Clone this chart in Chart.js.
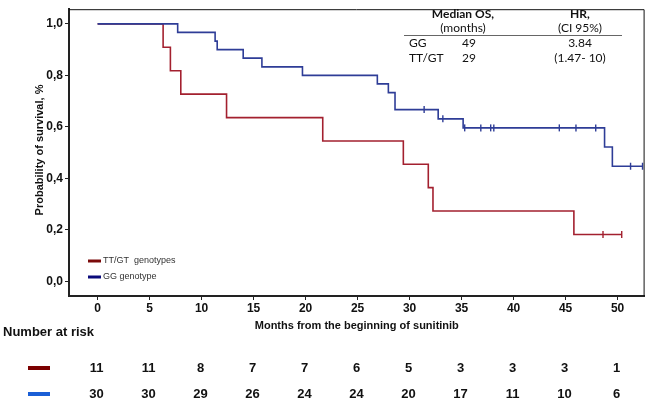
<!DOCTYPE html>
<html>
<head>
<meta charset="utf-8">
<script src="https://cdn.jsdelivr.net/npm/chart.js@4.4.1/dist/chart.umd.min.js"></script>
<style>
  html, body { margin: 0; padding: 0; background: #fff; }
  #wrap { width: 650px; height: 404px; }
</style>
</head>
<body>
<div id="wrap"><canvas id="km"></canvas></div>
<script>
Chart.defaults.animation = false;

const xTicks = [0, 5, 10, 15, 20, 25, 30, 35, 40, 45, 50];
const yTicks = [0, 0.2, 0.4, 0.6, 0.8, 1.0];

// TT/GT genotypes: step times (months) and survival after each step
const redTimes = [0, 6.3, 7.0, 8.0, 12.4, 21.65, 29.4, 31.8, 32.25, 45.8, 50.4];
const redSurv = [1, 0.909, 0.818, 0.727, 0.636, 0.545, 0.455, 0.364, 0.273, 0.182, 0.182];
const redCensored = [48.6, 50.4];

// GG genotype
const blueTimes = [0, 7.7, 11.3, 11.5, 14.0, 15.8, 19.7, 26.9, 27.96, 28.6, 32.75, 35.15, 48.75, 49.5, 52.4];
const blueSurv = [1, 0.967, 0.933, 0.90, 0.867, 0.833, 0.80, 0.767, 0.733, 0.667, 0.631, 0.596, 0.522, 0.447, 0.447];
const blueCensored = [31.4, 33.2, 35.3, 36.85, 37.8, 38.1, 44.4, 46.0, 47.9, 51.25, 52.4];

// number at risk under each x tick
const riskRed = [11, 11, 8, 7, 7, 6, 5, 3, 3, 3, 1];
const riskBlue = [30, 30, 29, 26, 24, 24, 20, 17, 11, 10, 6];

const RED = '#a3202f';
const BLUE = '#2e3d97';
const FONT = '"Liberation Sans", Arial, sans-serif';

function steps(times, surv) {
  return times.map((t, i) => ({ x: t, y: surv[i] }));
}
function survAt(times, surv, t) {
  let s = surv[0];
  for (let i = 0; i < times.length; i++) if (times[i] <= t) s = surv[i];
  return s;
}
function censorPoints(c, times, surv) {
  return c.map(t => ({ x: t, y: survAt(times, surv, t) }));
}

const extras = {
  id: 'extras',
  afterDraw(chart) {
    const { ctx, chartArea: a, scales } = chart;
    ctx.save();
    // frame top / right
    ctx.strokeStyle = '#111';
    ctx.lineWidth = 1;
    ctx.beginPath();
    ctx.moveTo(a.left, a.top + 0.5);
    ctx.lineTo(a.right - 0.5, a.top + 0.5);
    ctx.lineTo(a.right - 0.5, a.bottom);
    ctx.stroke();

    // axis titles
    ctx.fillStyle = '#111';
    ctx.font = 'bold 11px ' + FONT;
    ctx.textAlign = 'center';
    ctx.textBaseline = 'middle';
    ctx.fillText('Months from the beginning of sunitinib', (a.left + a.right) / 2, 326);
    ctx.save();
    ctx.translate(40, 150);
    ctx.rotate(-Math.PI / 2);
    ctx.fillText('Probability of survival, %', 0, 0);
    ctx.restore();

    // inner legend
    ctx.lineWidth = 3;
    ctx.strokeStyle = '#7b0a0a';
    ctx.beginPath(); ctx.moveTo(88, 261); ctx.lineTo(101, 261); ctx.stroke();
    ctx.strokeStyle = '#0a0a7b';
    ctx.beginPath(); ctx.moveTo(88, 277); ctx.lineTo(101, 277); ctx.stroke();
    ctx.font = '9px ' + FONT;
    ctx.fillStyle = '#333';
    ctx.textAlign = 'left';
    ctx.fillText('TT/GT  genotypes', 103, 261);
    ctx.fillText('GG genotype', 103, 277);

    // median OS / HR table
    ctx.fillStyle = '#111';
    ctx.font = 'bold 12px Lato, "Open Sans", sans-serif';
    ctx.textAlign = 'center';
    ctx.fillText('Median OS,', 463, 14);
    ctx.fillText('HR,', 580, 14);
    ctx.font = '12px Lato, "Open Sans", sans-serif';
    ctx.fillText('(months)', 463, 28);
    ctx.fillText('(CI 95%)', 580, 28);
    ctx.strokeStyle = '#666';
    ctx.lineWidth = 1;
    ctx.beginPath(); ctx.moveTo(404, 35.5); ctx.lineTo(622, 35.5); ctx.stroke();
    ctx.textAlign = 'left';
    ctx.fillText('GG', 409, 43);
    ctx.fillText('TT/GT', 409, 58);
    ctx.textAlign = 'center';
    ctx.fillText('49', 469, 43);
    ctx.fillText('29', 469, 58);
    ctx.fillText('3.84', 580, 43);
    ctx.fillText('(1.47- 10)', 580, 58);

    // number at risk
    ctx.font = 'bold 13px ' + FONT;
    ctx.textAlign = 'left';
    ctx.fillText('Number at risk', 3, 332);
    ctx.lineWidth = 4;
    ctx.strokeStyle = '#7b0000';
    ctx.beginPath(); ctx.moveTo(28, 368); ctx.lineTo(50, 368); ctx.stroke();
    ctx.strokeStyle = '#1a5fd6';
    ctx.beginPath(); ctx.moveTo(28, 394); ctx.lineTo(50, 394); ctx.stroke();
    ctx.textAlign = 'center';
    xTicks.forEach((t, i) => {
      const px = scales.x.getPixelForValue(t);
      ctx.fillText(String(riskRed[i]), px - 1, 368);
      ctx.fillText(String(riskBlue[i]), px - 1, 394);
    });
    ctx.restore();
  }
};

new Chart(document.getElementById('km'), {
  type: 'line',
  data: {
    datasets: [
      {
        label: 'GG genotype',
        data: steps(blueTimes, blueSurv),
        borderColor: BLUE,
        borderWidth: 1.6,
        stepped: 'before',
        pointRadius: 0,
        fill: false
      },
      {
        label: 'TT/GT genotypes',
        data: steps(redTimes, redSurv),
        borderColor: RED,
        borderWidth: 1.6,
        stepped: 'before',
        pointRadius: 0,
        fill: false
      },
      {
        label: 'GG censored',
        data: censorPoints(blueCensored, blueTimes, blueSurv),
        showLine: false,
        pointStyle: 'line',
        rotation: 90,
        pointRadius: 3.5,
        borderColor: BLUE,
        borderWidth: 1.4,
        clip: false
      },
      {
        label: 'TT/GT censored',
        data: censorPoints(redCensored, redTimes, redSurv),
        showLine: false,
        pointStyle: 'line',
        rotation: 90,
        pointRadius: 3.5,
        borderColor: RED,
        borderWidth: 1.4,
        clip: false
      }
    ]
  },
  options: {
    responsive: true,
    maintainAspectRatio: false,
    animation: false,
    layout: { padding: { left: 0, top: 3, right: 4, bottom: 71 } },
    plugins: {
      legend: { display: false },
      tooltip: { enabled: false }
    },
    scales: {
      x: {
        type: 'linear',
        min: -2.75,
        max: 52.6,
        afterBuildTicks: s => { s.ticks = xTicks.map(v => ({ value: v })); },
        afterFit: s => { s.height = 37; },
        border: { color: '#222', width: 2 },
        grid: { drawOnChartArea: false, drawTicks: true, tickLength: 4, color: '#222' },
        ticks: {
          color: '#111',
          font: { family: FONT, size: 12, weight: 'bold' },
          padding: 1,
          maxRotation: 0
        }
      },
      y: {
        type: 'linear',
        min: -0.057,
        max: 1.057,
        afterBuildTicks: s => { s.ticks = yTicks.map(v => ({ value: v })); },
        afterFit: s => { s.width = 69; },
        border: { color: '#222', width: 2 },
        grid: { drawOnChartArea: false, drawTicks: true, tickLength: 4, color: '#222' },
        ticks: {
          color: '#111',
          font: { family: FONT, size: 12, weight: 'bold' },
          padding: 2,
          callback: v => v.toFixed(1).replace('.', ',')
        }
      }
    }
  },
  plugins: [extras]
});
</script>
</body>
</html>
